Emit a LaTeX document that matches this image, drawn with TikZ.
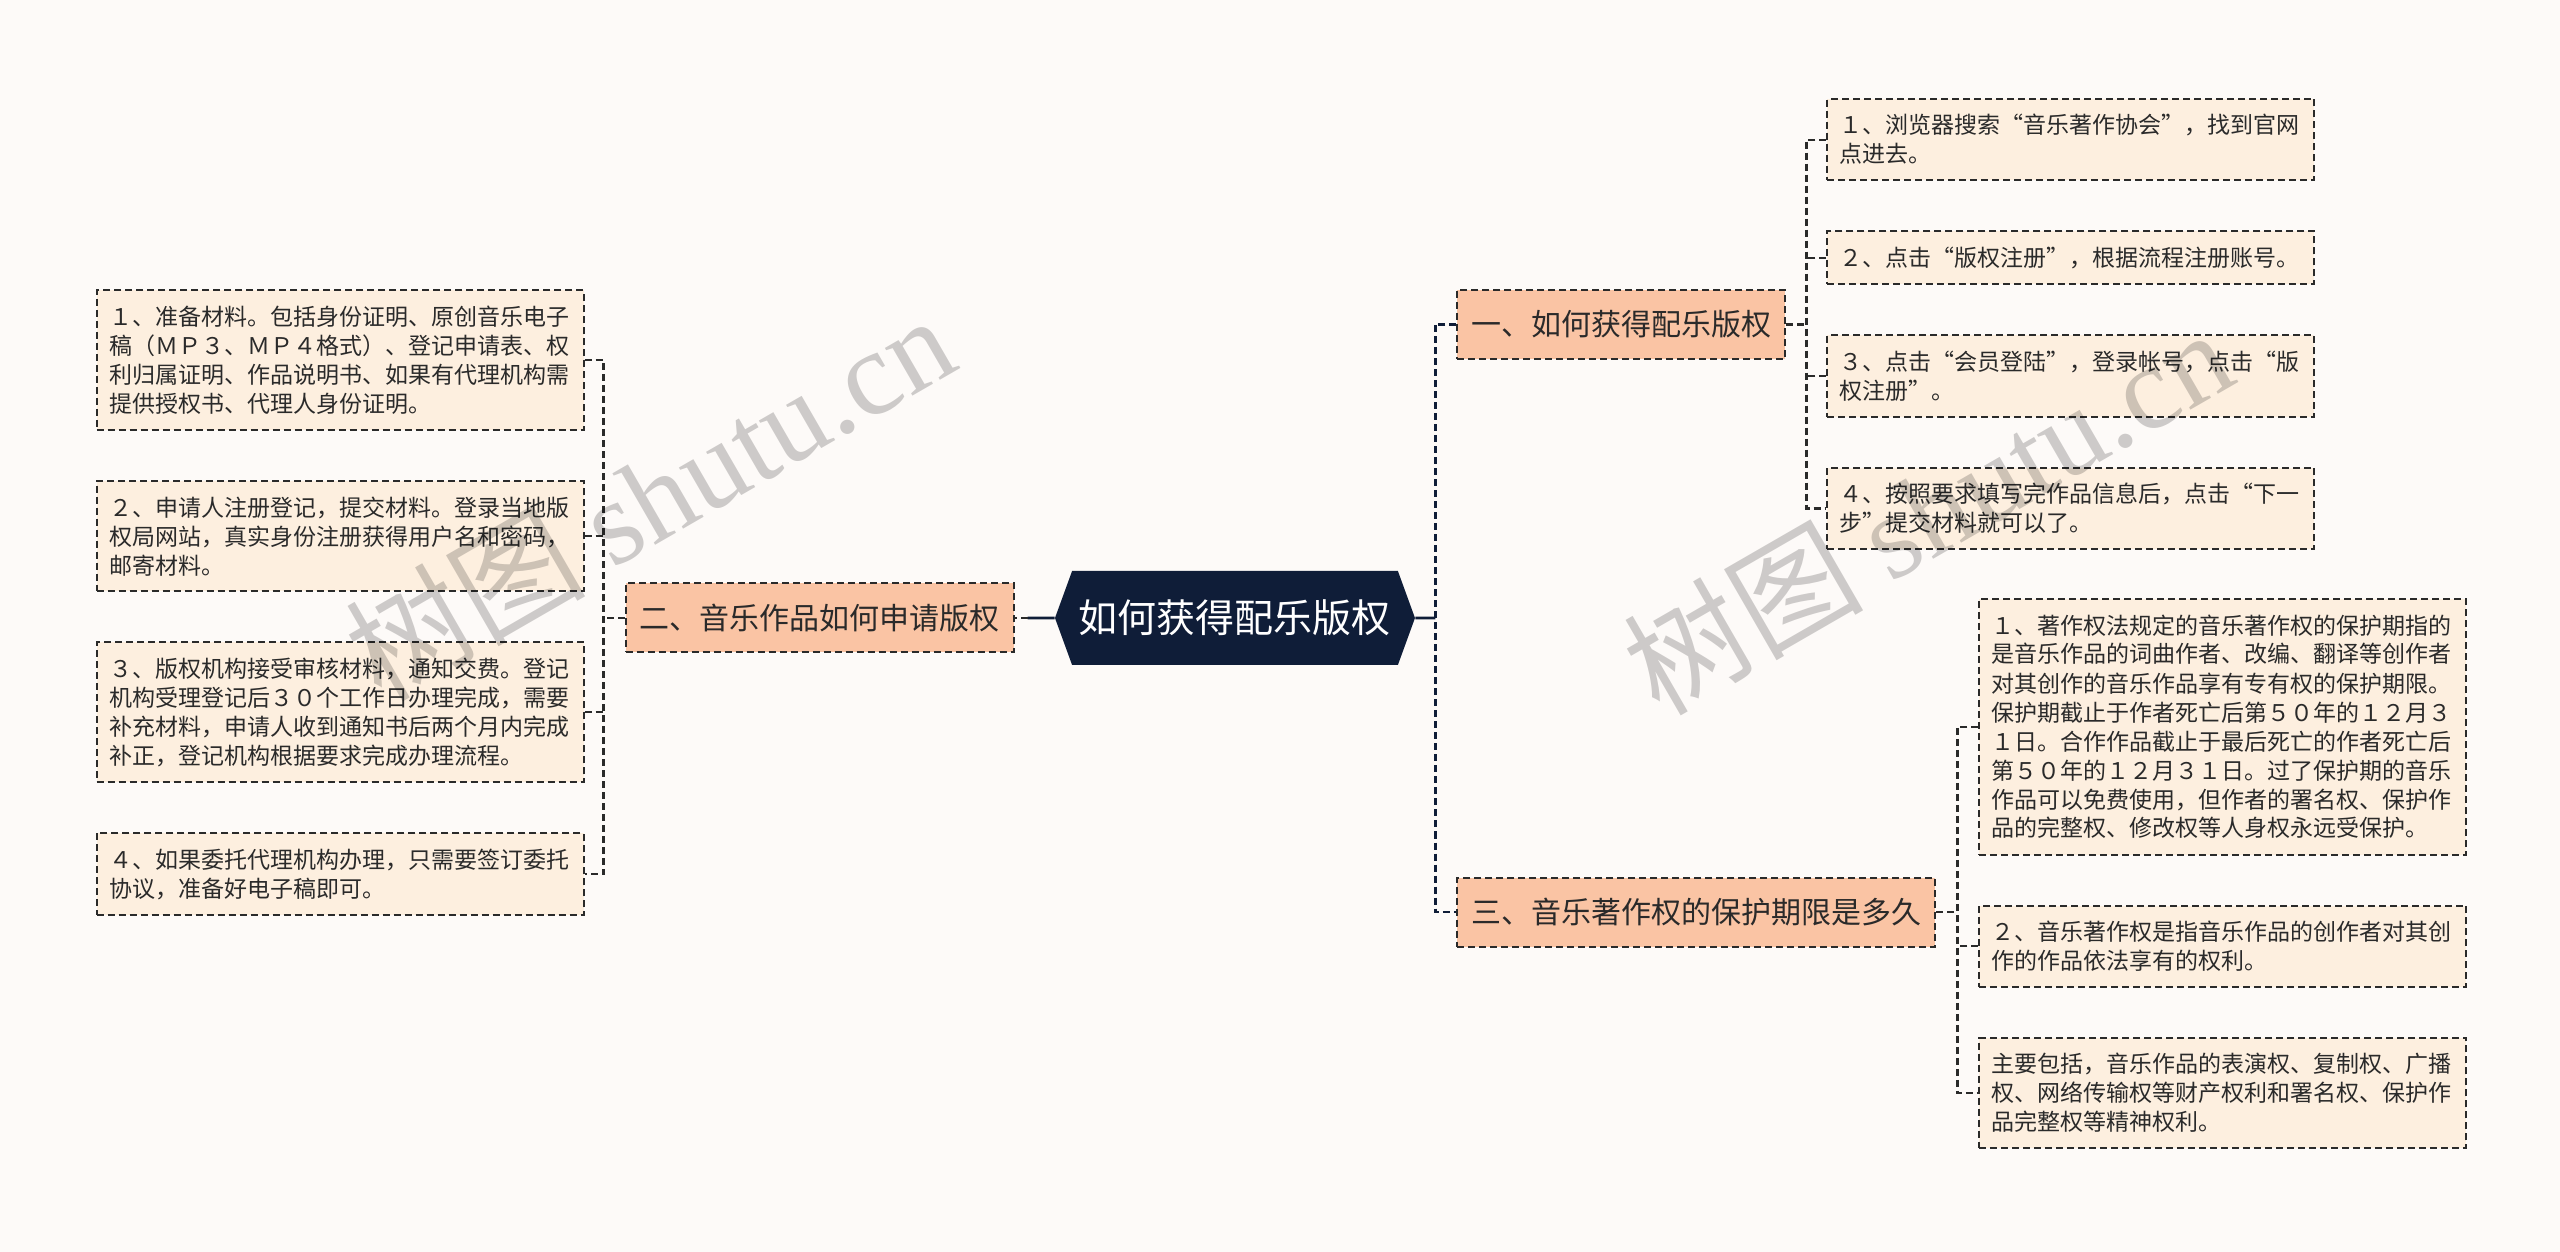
\documentclass[tikz,border=0pt]{standalone}
\usepackage{fontspec}
\setmainfont{Noto Sans CJK SC}
\newfontfamily\markfont{Liberation Serif}
\usepackage{tikz}
\usetikzlibrary{positioning}
\usetikzlibrary{shapes.symbols}

\definecolor{paper}{HTML}{FDFAF8}
\definecolor{rootblue}{HTML}{0F1D38}
\definecolor{topicfill}{HTML}{FAC4A4}
\definecolor{leaffill}{HTML}{FDEFDF}
\definecolor{ink}{HTML}{2A2A2A}

\begin{document}
\begin{tikzpicture}[
        node distance=24.5pt,
        hub/.style={signal, signal to=east and west, signal pointer angle=140,
                    fill=rootblue, text=white, minimum width=180pt, minimum height=47pt,
                    inner xsep=2pt, font=\fontsize{19.5}{22}\selectfont},
        topic/.style={draw=ink, dash pattern=on 3.5pt off 2pt, line width=1pt,
                      fill=topicfill, text=ink, inner xsep=7pt, minimum height=34.5pt,
                      font=\fontsize{15}{18}\selectfont},
        leaf/.style={draw=ink, dash pattern=on 3.5pt off 2pt, line width=1pt,
                     fill=leaffill, text=ink, align=left, text width=231pt,
                     inner xsep=6.25pt, inner ysep=7.75pt,
                     font=\fontsize{11.5}{14.5}\selectfont},
        link/.style={draw=ink, line width=1.1pt, dash pattern=on 3.5pt off 2pt},
        spine/.style={link, draw=rootblue},
        trunk/.style={draw=rootblue, line width=1.3pt},
        watermark/.style={text=black, text opacity=0.19, rotate=30,
                          font=\fontsize{60}{68}\selectfont}
    ]
        \fill[paper] (-617.5pt,-317pt) rectangle (662.5pt,309pt);
        \useasboundingbox (-617.5pt,-317pt) rectangle (662.5pt,309pt);

        \node[hub] (root) at (0,0) {如何获得配乐版权};
        \node[topic, left=20pt of root] (howapply) {二、音乐作品如何申请版权};
        \node[topic, right=20.5pt of root, yshift=146.75pt] (howget) {一、如何获得配乐版权};
        \node[topic, right=20.5pt of root, yshift=-147pt] (term) {三、音乐著作权的保护期限是多久};

        \node[leaf, anchor=north east] (prepare) at ([xshift=-20pt, yshift=164.25pt]howapply.west)
            {１、准备材料。包括身份证明、原创音乐电子\\稿（ＭＰ３、ＭＰ４格式）、登记申请表、权\\利归属证明、作品说明书、如果有代理机构需\\提供授权书、代理人身份证明。};
        \node[leaf, below=of prepare] (signup)
            {２、申请人注册登记，提交材料。登录当地版\\权局网站，真实身份注册获得用户名和密码，\\邮寄材料。};
        \node[leaf, below=of signup] (review)
            {３、版权机构接受审核材料，通知交费。登记\\机构受理登记后３０个工作日办理完成，需要\\补充材料，申请人收到通知书后两个月内完成\\补正，登记机构根据要求完成办理流程。};
        \node[leaf, below=of review] (agent)
            {４、如果委托代理机构办理，只需要签订委托\\协议，准备好电子稿即可。};

        \node[leaf, anchor=north west] (search) at ([xshift=20pt, yshift=113.25pt]howget.east)
            {１、浏览器搜索“音乐著作协会”，找到官网\\点进去。};
        \node[leaf, below=of search] (register)
            {２、点击“版权注册”，根据流程注册账号。};
        \node[leaf, below=of register] (login)
            {３、点击“会员登陆”，登录帐号，点击“版\\权注册”。};
        \node[leaf, below=of login] (submit)
            {４、按照要求填写完作品信息后，点击“下一\\步”提交材料就可以了。};

        \node[leaf, anchor=north west] (period) at ([xshift=21pt, yshift=157pt]term.east)
            {１、著作权法规定的音乐著作权的保护期指的\\是音乐作品的词曲作者、改编、翻译等创作者\\对其创作的音乐作品享有专有权的保护期限。\\保护期截止于作者死亡后第５０年的１２月３\\１日。合作作品截止于最后死亡的作者死亡后\\第５０年的１２月３１日。过了保护期的音乐\\作品可以免费使用，但作者的署名权、保护作\\品的完整权、修改权等人身权永远受保护。};
        \node[leaf, below=of period] (meaning)
            {２、音乐著作权是指音乐作品的创作者对其创\\作的作品依法享有的权利。};
        \node[leaf, below=of meaning] (rights)
            {主要包括，音乐作品的表演权、复制权、广播\\权、网络传输权等财产权利和署名权、保护作\\品完整权等精神权利。};

        \coordinate[right=10pt of root] (rjoin);
        \coordinate[left=13.5pt of root] (ljoin);
        \coordinate[left=10.5pt of howapply] (lfork);
        \coordinate[right=10pt of howget] (gfork);
        \coordinate[right=10.5pt of term] (tfork);

        \draw[trunk] (root) -- (rjoin);
        \draw[spine] (howget.west) -- (howget.west -| rjoin) -- (term.west -| rjoin) -- (term.west);
        \draw[trunk] (root) -- (ljoin);
        \draw[link] (ljoin) -- (howapply);

        \draw[link] (howapply) -- (lfork);
        \draw[link] (prepare.east) -- (prepare.east -| lfork) -- (agent.east -| lfork) -- (agent.east);
        \draw[link] (signup.east) -- (signup.east -| lfork);
        \draw[link] (review.east) -- (review.east -| lfork);

        \draw[link] (howget) -- (gfork);
        \draw[link] (search.west) -- (search.west -| gfork) -- (submit.west -| gfork) -- (submit.west);
        \draw[link] (register.west) -- (register.west -| gfork);
        \draw[link] (login.west) -- (login.west -| gfork);

        \draw[link] (term) -- (tfork);
        \draw[link] (period.west) -- (period.west -| tfork) -- (rights.west -| tfork) -- (rights.west);
        \draw[link] (meaning.west) -- (meaning.west -| tfork);

        \node[watermark] (markleft) at (-293pt,61pt) {树图 {\markfont shutu.cn}};
        \node[watermark] (markright) at (346pt,54pt) {树图 {\markfont shutu.cn}};
    \end{tikzpicture}
\end{document}
